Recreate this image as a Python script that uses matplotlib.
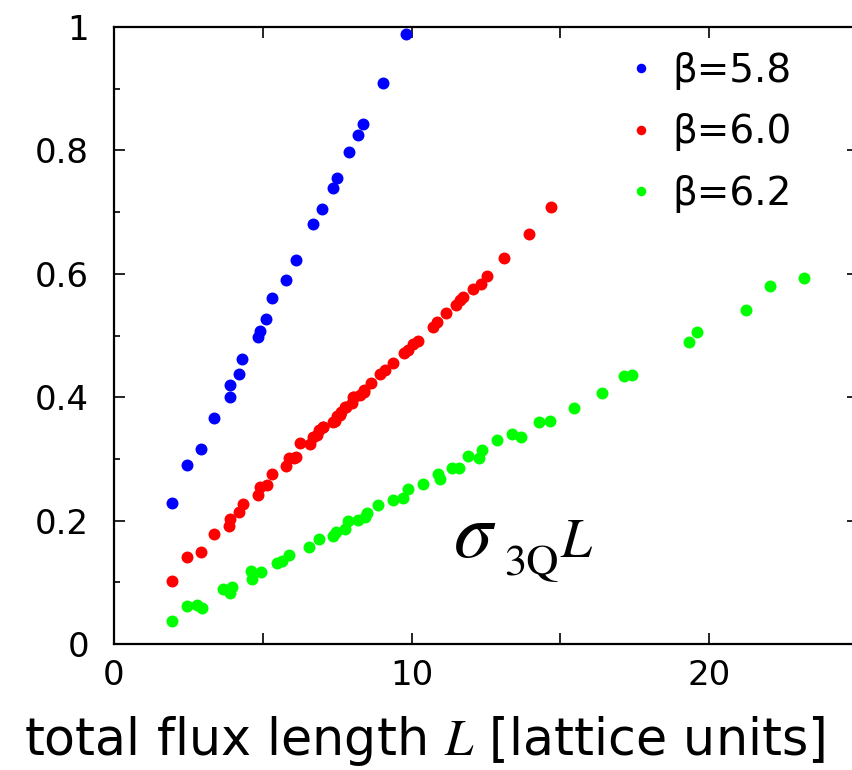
import numpy as np
from matplotlib import pyplot as plt
from matplotlib.ticker import MultipleLocator

plt.rcParams['font.family'] = ['DejaVu Sans']
plt.rcParams['mathtext.fontset'] = 'stix'

# beta = 5.8
x58 = [1.95, 2.46, 2.94, 3.36, 3.89, 3.91, 4.19, 4.31, 4.85, 4.91, 5.12, 5.30,
       5.79, 6.10, 6.70, 6.98, 7.36, 7.50, 7.90, 8.20, 8.37, 9.03, 9.80]
y58 = [0.228, 0.290, 0.316, 0.367, 0.400, 0.420, 0.438, 0.462, 0.498, 0.507, 0.527, 0.561,
       0.590, 0.623, 0.680, 0.705, 0.739, 0.756, 0.797, 0.825, 0.843, 0.910, 0.988]

# beta = 6.0
x60 = [1.95, 2.46, 2.94, 3.36, 3.88, 3.91, 4.19, 4.32, 4.85, 4.91, 5.15, 5.31,
       5.79, 5.88, 6.04, 6.12, 6.26, 6.60, 6.70, 6.81, 6.89, 7.01, 7.04, 7.37,
       7.43, 7.51, 7.60, 7.64, 7.75, 7.79, 7.99, 8.04, 8.07, 8.27, 8.40, 8.41,
       8.65, 8.94, 9.11, 9.37, 9.73, 9.89, 10.06, 10.23, 10.71, 10.85, 11.14, 11.49,
       11.63, 11.74, 12.06, 12.34, 12.55, 13.12, 13.93, 14.69]
y60 = [0.1015, 0.141, 0.1485, 0.179, 0.192, 0.202, 0.214, 0.227, 0.241, 0.254, 0.257, 0.275,
       0.288, 0.301, 0.301, 0.303, 0.326, 0.324, 0.336, 0.338, 0.347, 0.352, 0.351, 0.360,
       0.362, 0.369, 0.371, 0.376, 0.384, 0.384, 0.390, 0.400, 0.400, 0.403, 0.408, 0.411,
       0.423, 0.437, 0.444, 0.455, 0.471, 0.476, 0.487, 0.491, 0.514, 0.522, 0.536, 0.549,
       0.557, 0.562, 0.576, 0.584, 0.596, 0.626, 0.664, 0.709]

# beta = 6.2
x62 = [1.95, 2.46, 2.78, 2.96, 3.65, 3.90, 3.96, 4.61, 4.63, 4.93, 5.47, 5.64,
       5.87, 6.54, 6.88, 7.37, 7.46, 7.76, 7.88, 8.21, 8.44, 8.49, 8.88, 9.39,
       9.72, 9.89, 10.38, 10.90, 10.96, 11.35, 11.61, 11.88, 12.25, 12.38, 12.88, 13.36,
       13.66, 14.29, 14.65, 15.45, 16.39, 17.14, 17.40, 19.32, 19.58, 21.25, 22.04, 23.17]
y62 = [0.038, 0.062, 0.063, 0.059, 0.089, 0.083, 0.092, 0.118, 0.106, 0.117, 0.132, 0.134,
       0.144, 0.158, 0.171, 0.175, 0.182, 0.187, 0.199, 0.201, 0.206, 0.212, 0.225, 0.233,
       0.236, 0.252, 0.260, 0.276, 0.267, 0.286, 0.285, 0.304, 0.301, 0.315, 0.331, 0.341,
       0.336, 0.360, 0.361, 0.383, 0.407, 0.435, 0.436, 0.489, 0.505, 0.542, 0.580, 0.594]

labels = ['β=5.8', 'β=6.0', 'β=6.2']
colors = ['#0000ff', '#ff0000', '#00ff00']

fig = plt.figure(figsize=(8.52, 7.7), dpi=100)
ax = fig.add_axes([0.1338, 0.1636, 0.8732, 0.8013])

for xs, ys, c, lab in zip([x58, x60, x62], [y58, y60, y62], colors, labels):
    ax.plot(xs, ys, 'o', color=c, ms=8.6, mec='none', label=lab)

ax.set_xlim(0, 25)
ax.set_ylim(0, 1)
ax.set_xticks([0, 5, 10, 15, 20, 25])
ax.set_xticklabels(['0', '', '10', '', '20', ''])
ax.set_yticks([0, 0.2, 0.4, 0.6, 0.8, 1.0])
ax.set_yticklabels(['0', '0.2', '0.4', '0.6', '0.8', '1'])
ax.yaxis.set_minor_locator(MultipleLocator(0.1))
ax.tick_params(which='major', direction='in', top=True, right=True,
               length=8, width=1.2, labelsize=24.5)
ax.tick_params(which='minor', direction='in', right=True, length=4.5, width=1.2)
ax.tick_params(axis='x', pad=11)
ax.tick_params(axis='y', pad=18)
for s in ax.spines.values():
    s.set_linewidth(1.6)

# the axes run past the right edge, so centre the label on the visible part
ax.set_xlabel('total flux length $L$ [lattice units]', fontsize=36.5, va='baseline')
ax.xaxis.set_label_coords(0.418, -0.18)

ax.legend(loc='upper left', bbox_to_anchor=(0.672, 0.985), frameon=False,
          fontsize=28, markerscale=0.8, handlelength=0.6, handletextpad=0.5,
          labelspacing=0.6, borderaxespad=0)

ax.text(11.4, 0.141, r'$\sigma$', fontsize=56, ha='left', va='baseline')
ax.text(13.1, 0.112, '3Q', fontsize=32, family='STIXGeneral', ha='left', va='baseline')
ax.text(15.0, 0.141, r'$L$', fontsize=40, ha='left', va='baseline')

fig.savefig('out.png', dpi=100)
